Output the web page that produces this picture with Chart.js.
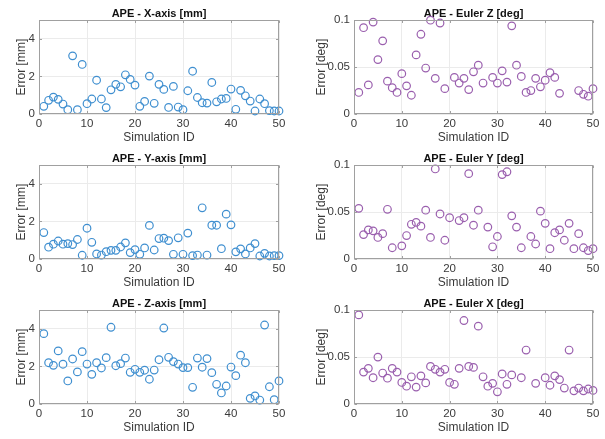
<!DOCTYPE html>
<html>
<head>
<meta charset="utf-8">
<script src="https://cdn.jsdelivr.net/npm/chart.js@4.4.1/dist/chart.umd.min.js"></script>
<style>
    body { margin: 0; background: #fff; }
    #wrap { position: relative; width: 605px; height: 439px; background: #fff; }
    canvas { position: absolute; }
</style>
</head>
<body>
<div id="wrap">
    <canvas id="c-xaxis" width="300" height="145" style="left:0;top:0"></canvas>
    <canvas id="c-eulerz" width="305" height="145" style="left:300px;top:0"></canvas>
    <canvas id="c-yaxis" width="300" height="145" style="left:0;top:145px"></canvas>
    <canvas id="c-eulery" width="305" height="145" style="left:300px;top:145px"></canvas>
    <canvas id="c-zaxis" width="300" height="145" style="left:0;top:290px"></canvas>
    <canvas id="c-eulerx" width="305" height="145" style="left:300px;top:290px"></canvas>
</div>
<script>
const SIM_IDS = [1, 2, 3, 4, 5, 6, 7, 8, 9, 10,
    11, 12, 13, 14, 15, 16, 17, 18, 19, 20,
    21, 22, 23, 24, 25, 26, 27, 28, 29, 30,
    31, 32, 33, 34, 35, 36, 37, 38, 39, 40,
    41, 42, 43, 44, 45, 46, 47, 48, 49, 50];

const ID_TICKS = [0, 10, 20, 30, 40, 50];
const MM_TICKS = [0, 2, 4];
const DEG_TICKS = [0, 0.05, 0.1];

// position errors [mm]
const X_AXIS_MM = [0.41, 0.73, 0.90, 0.78, 0.53, 0.23, 3.10, 0.23, 2.64, 0.55,
    0.80, 1.80, 0.80, 0.34, 1.29, 1.58, 1.45, 2.09, 1.84, 1.54,
    0.41, 0.67, 2.02, 0.57, 1.58, 1.31, 0.35, 1.47, 0.37, 0.23,
    1.24, 2.28, 0.88, 0.60, 0.58, 1.68, 0.65, 0.80, 0.83, 1.33,
    0.25, 1.26, 0.97, 0.69, 0.16, 0.80, 0.55, 0.18, 0.16, 0.16];
const Y_AXIS_MM = [1.41, 0.63, 0.79, 0.96, 0.79, 0.82, 0.77, 1.04, 0.20, 1.64,
    0.89, 0.27, 0.21, 0.39, 0.46, 0.46, 0.64, 0.86, 0.34, 0.50,
    0.25, 0.59, 1.79, 0.48, 1.09, 1.11, 0.98, 0.25, 1.13, 0.25,
    1.38, 0.18, 0.21, 2.73, 0.21, 1.80, 1.80, 0.55, 2.39, 1.82,
    0.38, 0.54, 0.27, 0.59, 0.82, 0.16, 0.30, 0.16, 0.18, 0.18];
const Z_AXIS_MM = [3.75, 2.20, 2.06, 2.83, 2.12, 1.23, 2.40, 1.71, 2.79, 2.13,
    1.58, 2.20, 1.92, 2.47, 4.09, 2.04, 2.15, 2.45, 1.69, 1.85,
    1.69, 1.80, 1.32, 1.81, 2.36, 4.05, 2.49, 2.26, 2.13, 1.94,
    1.94, 0.89, 2.45, 1.96, 2.42, 1.67, 1.05, 0.59, 0.96, 1.97,
    1.51, 2.60, 2.20, 0.30, 0.43, 0.21, 4.21, 0.92, 0.23, 1.23];

// orientation errors [deg] (null = off the plotted range)
const EULER_Z_DEG = [0.023, 0.092, 0.031, 0.098, 0.058, 0.078, 0.035, 0.028, 0.023, 0.043,
    0.030, 0.020, 0.063, 0.085, 0.049, 0.100, 0.038, 0.097, 0.027, null,
    0.039, 0.033, 0.038, 0.026, 0.045, 0.052, 0.033, null, 0.039, 0.033,
    0.046, 0.034, 0.094, 0.052, 0.040, 0.023, 0.025, 0.038, 0.029, 0.036,
    0.044, 0.039, 0.022, null, null, null, 0.025, 0.021, 0.019, 0.027];
const EULER_Y_DEG = [0.054, 0.026, 0.031, 0.030, 0.023, 0.027, 0.053, 0.012, null, 0.014,
    0.025, 0.037, 0.039, 0.035, 0.052, 0.023, 0.096, 0.048, 0.020, 0.044,
    null, 0.041, 0.044, 0.091, 0.036, 0.052, null, 0.034, 0.013, 0.024,
    0.090, 0.093, 0.046, 0.034, 0.012, null, 0.024, 0.016, 0.051, 0.038,
    0.011, 0.028, 0.031, 0.020, 0.038, 0.011, 0.027, 0.012, 0.009, 0.011];
const EULER_X_DEG = [0.095, 0.034, 0.038, 0.028, 0.050, 0.033, 0.0275, 0.038, 0.034, 0.023,
    0.019, 0.029, 0.018, 0.030, 0.0225, 0.040, 0.037, 0.034, 0.037, 0.023,
    0.021, 0.038, 0.089, 0.040, 0.039, 0.083, 0.029, 0.019, 0.022, 0.013,
    0.032, 0.021, 0.031, null, 0.028, 0.0575, null, 0.022, null, 0.028,
    0.020, 0.030, 0.026, 0.017, 0.0575, 0.014, 0.017, 0.014, 0.016, 0.0145];

const BLUE = "#3f8fd0";
const PURPLE = "#9a5fae";
const FONT = "'Liberation Sans', Arial, Helvetica, sans-serif";
const TEXT_COLOR = "#3a3a3a";

// axes box with small inward ticks, matlab style
const framePlugin = {
    id: "frame",
    afterDraw(chart) {
        const {ctx, chartArea: a, scales} = chart;
        const l = Math.round(a.left) + 0.5, r = Math.round(a.right) - 0.5;
        const t = Math.round(a.top) + 0.5, b = Math.round(a.bottom) - 0.5;
        ctx.save();
        ctx.strokeStyle = "#a0a0a0";
        ctx.lineWidth = 1;
        ctx.strokeRect(l, t, r - l, b - t);
        ctx.beginPath();
        scales.x.ticks.forEach(tk => {
            const px = Math.round(scales.x.getPixelForValue(tk.value)) + 0.5;
            ctx.moveTo(px, b); ctx.lineTo(px, b - 2.5);
            ctx.moveTo(px, t); ctx.lineTo(px, t + 2.5);
        });
        scales.y.ticks.forEach(tk => {
            const py = Math.round(scales.y.getPixelForValue(tk.value)) + 0.5;
            ctx.moveTo(l, py); ctx.lineTo(l + 2.5, py);
            ctx.moveTo(r, py); ctx.lineTo(r - 2.5, py);
        });
        ctx.stroke();
        ctx.restore();
    }
};

function makePanel(canvasId, title, values, color, yTicks, yMax, yTitle, yWidth, rightPad) {
    const ctx = document.getElementById(canvasId).getContext("2d");
    const points = SIM_IDS.map((id, i) => ({x: id, y: values[i]}));
    return new Chart(ctx, {
        type: "scatter",
        data: {
            datasets: [{
                data: points,
                borderColor: color,
                backgroundColor: "transparent",
                borderWidth: 1.2,
                pointRadius: 3.8,
                pointHoverRadius: 3.8,
                clip: false
            }]
        },
        options: {
            responsive: false,
            animation: false,
            events: [],
            layout: {padding: {left: 0, right: rightPad, top: 0, bottom: 0}},
            plugins: {
                legend: {display: false},
                tooltip: {enabled: false},
                title: {
                    display: true,
                    text: title,
                    fullSize: false,
                    color: "#111",
                    font: {family: FONT, size: 11, weight: "bold"},
                    padding: {top: 7, bottom: 0}
                }
            },
            scales: {
                x: {
                    type: "linear",
                    min: 0,
                    max: 50,
                    afterBuildTicks: (scale) => { scale.ticks = ID_TICKS.map(v => ({value: v})); },
                    afterFit: (scale) => { scale.height = 31; },
                    grid: {color: "#ebebeb", drawTicks: false},
                    border: {display: false},
                    ticks: {color: TEXT_COLOR, padding: 3, maxRotation: 0, font: {family: FONT, size: 11.5}},
                    title: {
                        display: true,
                        text: "Simulation ID",
                        color: TEXT_COLOR,
                        font: {family: FONT, size: 12},
                        padding: {top: 0, bottom: 0}
                    }
                },
                y: {
                    type: "linear",
                    min: 0,
                    max: yMax,
                    afterBuildTicks: (scale) => { scale.ticks = yTicks.map(v => ({value: v})); },
                    afterFit: (scale) => { scale.width = yWidth; },
                    grid: {color: "#ebebeb", drawTicks: false},
                    border: {display: false},
                    ticks: {
                        color: TEXT_COLOR,
                        padding: 4,
                        font: {family: FONT, size: 11.5},
                        callback: (v) => String(+Number(v).toFixed(3))
                    },
                    title: {
                        display: true,
                        text: yTitle,
                        color: TEXT_COLOR,
                        font: {family: FONT, size: 12},
                        padding: {top: 14.5, bottom: 0}
                    }
                }
            }
        },
        plugins: [framePlugin]
    });
}

makePanel("c-xaxis", "APE - X-axis [mm]", X_AXIS_MM, BLUE, MM_TICKS, 5, "Error [mm]", 39, 21);
makePanel("c-yaxis", "APE - Y-axis [mm]", Y_AXIS_MM, BLUE, MM_TICKS, 5, "Error [mm]", 39, 21);
makePanel("c-zaxis", "APE - Z-axis [mm]", Z_AXIS_MM, BLUE, MM_TICKS, 5, "Error [mm]", 39, 21);
makePanel("c-eulerz", "APE - Euler Z [deg]", EULER_Z_DEG, PURPLE, DEG_TICKS, 0.1, "Error [deg]", 54, 12);
makePanel("c-eulery", "APE - Euler Y [deg]", EULER_Y_DEG, PURPLE, DEG_TICKS, 0.1, "Error [deg]", 54, 12);
makePanel("c-eulerx", "APE - Euler X [deg]", EULER_X_DEG, PURPLE, DEG_TICKS, 0.1, "Error [deg]", 54, 12);
</script>
</body>
</html>
